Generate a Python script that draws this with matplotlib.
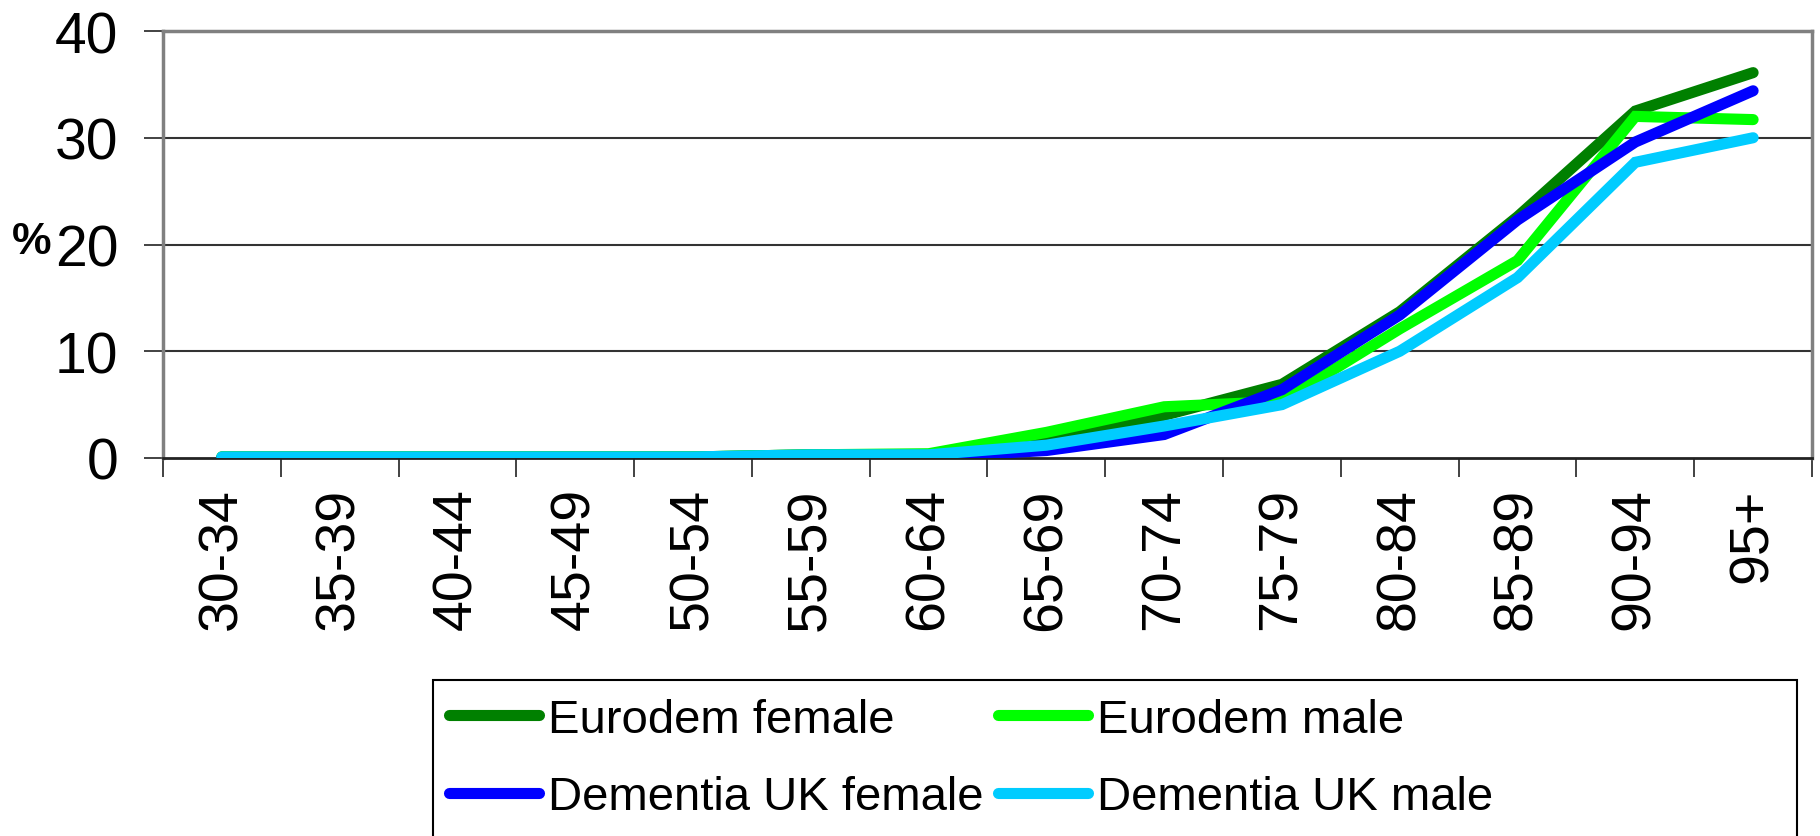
import matplotlib.pyplot as plt
from matplotlib.patches import Rectangle

plt.rcParams['font.family'] = ['Liberation Sans', 'DejaVu Sans']

# age bands and prevalence (%)
ages = ['30-34', '35-39', '40-44', '45-49', '50-54', '55-59', '60-64',
        '65-69', '70-74', '75-79', '80-84', '85-89', '90-94', '95+']
eurodem_female = [0.1, 0.1, 0.1, 0.1, 0.1, 0.3, 0.3, 1.8, 4.0, 6.9, 13.7, 22.6, 32.5, 36.1]
eurodem_male = [0.1, 0.1, 0.1, 0.1, 0.1, 0.3, 0.4, 2.4, 4.8, 5.3, 12.1, 18.5, 32.0, 31.7]
uk_female = [0.0, 0.0, 0.0, 0.0, 0.0, 0.1, 0.1, 0.7, 2.2, 6.4, 13.4, 22.3, 29.6, 34.4]
uk_male = [0.1, 0.1, 0.1, 0.1, 0.1, 0.3, 0.3, 1.2, 3.0, 5.0, 10.0, 16.9, 27.7, 30.0]

series = [
    ("Eurodem female", eurodem_female, "#008000"),
    ("Eurodem male", eurodem_male, "#00FF00"),
    ("Dementia UK female", uk_female, "#0000FF"),
    ("Dementia UK male", uk_male, "#00CCFF"),
]

W, H = 1820, 837
fig = plt.figure(figsize=(W / 100, H / 100), dpi=100)
ax = fig.add_axes([163 / W, 1 - 459 / H, (1812 - 163) / W, (459 - 32) / H])

x = list(range(len(ages)))
lines = []
for name, vals, col in series:
    ln, = ax.plot(x, vals, color=col, lw=8, label=name,
                  solid_capstyle='round', solid_joinstyle='miter', zorder=3)
    lines.append(ln)

ax.set_xlim(-0.5, len(ages) - 0.5)
ax.set_ylim(0, 40)
ax.set_yticks([0, 10, 20, 30, 40])
ax.tick_params(axis='y', labelsize=41, length=13.5, width=1.2, pad=18.5, color='#222222')

# category boundaries as major ticks, labels on minor ticks at centres
ax.set_xticks([i - 0.5 for i in range(len(ages) + 1)])
ax.set_xticklabels([])
ax.set_xticks(x, minor=True)
ax.set_xticklabels(ages, minor=True, rotation=90)
ax.tick_params(axis='x', which='major', length=13.5, width=1.2, color='#222222')
ax.tick_params(axis='x', which='minor', length=0, labelsize=40, pad=21)

for v in [10, 20, 30]:
    ax.axhline(v, color='#333333', lw=1.5, zorder=1)

for s in ['top', 'left', 'right']:
    ax.spines[s].set_color('#808080')
    ax.spines[s].set_linewidth(2.5)
ax.spines['bottom'].set_color('#222222')
ax.spines['bottom'].set_linewidth(2)

fig.text(32 / W, 1 - 243 / H, '%', fontsize=32, fontweight='bold', ha='center', va='center')

# legend frame (runs off the bottom of the picture)
fig.patches.append(Rectangle((433 / W, -0.05), (1797 - 433) / W, (1 - 681 / H) + 0.05,
                             transform=fig.transFigure, fill=False, ec='black', lw=1.5))
# row-wise order: matplotlib fills legend columns first
order = [0, 2, 1, 3]
fig.legend(handles=[lines[i] for i in order], ncol=2, loc='upper left',
           bbox_to_anchor=(449 / W, 1 - 699 / H),
           frameon=False, fontsize=34, handlelength=1.9, handletextpad=0.2,
           columnspacing=0.3, labelspacing=0.7, borderpad=0, borderaxespad=0)

fig.savefig('out.png', dpi=100)
